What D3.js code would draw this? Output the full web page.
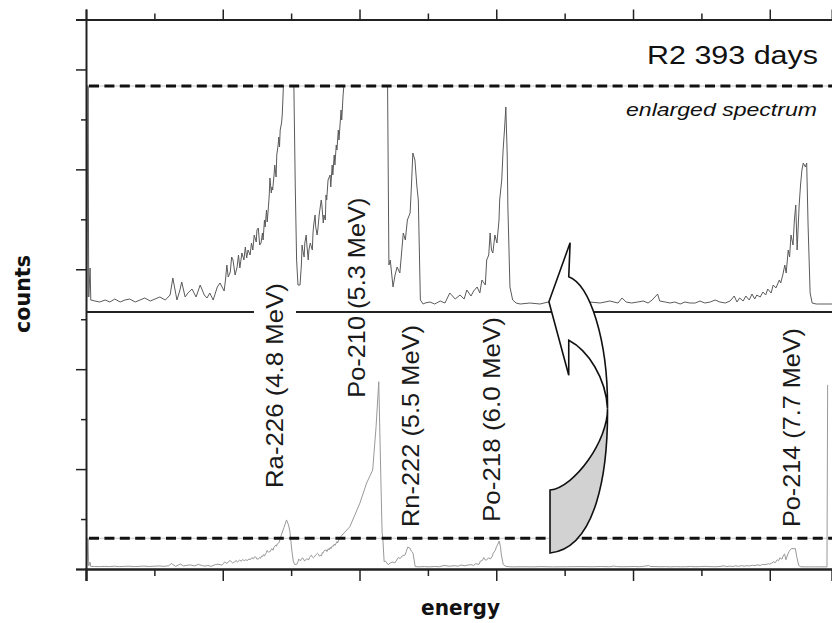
<!DOCTYPE html>
<html>
<head>
<meta charset="utf-8">
<script src="https://cdn.jsdelivr.net/npm/d3@7"></script>
<style>
  body { margin: 0; background: #fff; }
  svg { display: block; }
</style>
</head>
<body>
<svg id="chart" width="832" height="623"></svg>
<script>
// Alpha spectrum, sample R2 after 393 days: counts per channel
const channels = [
  0, 1, 3, 4, 6, 7, 13, 20, 28, 35, 42, 50, 57, 64, 72, 79, 86, 94, 101, 108,
  116, 123, 127, 133, 137, 140, 145, 149, 155, 161, 167, 173, 177, 181, 186, 192, 196,
  202, 204, 206, 208, 211, 213, 215, 218, 221, 223, 225, 228, 231, 233, 235, 237, 240, 242, 244, 246,
  249, 250, 252, 254, 256, 258, 259, 261, 262, 264, 265, 267, 268, 269, 271, 272, 273, 275, 276, 278,
  279, 281, 282, 283, 284, 286, 287, 290, 294, 298, 301, 303, 306, 308, 310,
  313, 315, 316, 317, 319, 320, 322, 323, 325, 326, 328, 331, 332, 333, 335, 336, 338, 339, 341, 342,
  344, 345, 347, 348, 350, 351, 352, 354, 357, 358, 360, 361, 363, 364, 366, 367, 369, 370, 371, 373,
  374, 376, 379, 392, 407, 417, 426, 431, 435, 438, 440, 441, 443,
  445, 449, 452, 455, 459, 464, 467, 470, 474, 476, 478, 481, 484, 486, 489, 493,
  496, 503, 510, 518, 525, 532, 540, 547, 553, 557, 563, 567, 572, 576, 579, 584, 586, 589,
  591, 593, 595, 598, 601, 604, 605, 608, 610, 612, 614, 616, 617, 620, 624, 629, 635, 649, 664, 676,
  693, 715, 737, 752, 766, 778, 784, 790, 798, 807, 815, 822, 828, 836, 839, 847, 854, 861, 869, 876,
  883, 891, 898, 905, 913, 920, 927, 935, 942, 948, 952, 956, 961, 965, 970, 974, 978, 981, 986, 990,
  994, 997, 1002, 1005, 1009, 1014, 1016, 1019, 1022, 1024, 1027, 1029, 1031, 1034, 1036, 1038, 1040, 1043, 1045, 1047,
  1049, 1052, 1054, 1056, 1059, 1062, 1068, 1073, 1082, 1091, 1101, 1102
];
const counts = [
  1680, 8, 220, 8, 37, 5, 4, 3, 5, 3, 6, 3, 5, 6, 3, 5, 7, 4, 6, 8,
  5, 10, 27, 5, 14, 23, 8, 12, 16, 8, 20, 10, 7, 12, 5, 18, 22,
  14, 25, 40, 28, 33, 48, 45, 30, 38, 50, 37, 52, 45, 58, 47, 55, 50, 62, 55, 70,
  63, 75, 77, 60, 62, 72, 65, 85, 78, 95, 83, 100, 110, 127, 112, 118, 115, 130, 140, 128,
  150, 160, 168, 158, 175, 182, 190, 240, 300, 359, 320, 270, 120, 45, 20,
  20, 40, 60, 55, 48, 62, 70, 60, 45, 55, 62, 55, 72, 80, 90, 78, 70, 75, 90, 95,
  105, 100, 82, 90, 85, 110, 105, 125, 130, 118, 140, 130, 150, 140, 160, 155, 175, 165, 175, 195,
  185, 210, 235, 307, 488, 641, 740, 1070, 1414, 700, 260, 225, 40,
  45, 18, 30, 38, 32, 72, 65, 85, 92, 120, 152, 145, 118, 105, 5, 1,
  2, 3, 1, 4, 2, 12, 6, 10, 6, 15, 9, 14, 18, 12, 25, 20, 45, 50,
  72, 55, 52, 70, 62, 85, 105, 125, 155, 175, 198, 150, 98, 18, 5, 2, 1, 2, 1, 3,
  1, 2, 3, 2, 4, 2, 7, 3, 2, 3, 4, 2, 5, 11, 4, 3, 2, 3, 1, 3,
  2, 2, 4, 2, 3, 5, 3, 2, 4, 9, 3, 7, 4, 9, 5, 11, 6, 10, 8, 13,
  10, 16, 12, 20, 17, 25, 22, 30, 40, 32, 55, 48, 70, 60, 85, 100, 55, 100, 120, 135,
  142, 138, 142, 80, 12, 2, 1, 1, 1, 1, 1, 1390
];
// Count level shown at full height in the enlarged view
const enlargedMax = 219;

const peakLabels = ["Ra-226 (4.8 MeV)", "Po-210 (5.3 MeV)", "Rn-222 (5.5 MeV)", "Po-218 (6.0 MeV)", "Po-214 (7.7 MeV)"];
const axisTicks = d3.range(0, 1001, 100);
const levelTicks = d3.range(0, 12, 1);

// Label placement (baseline channel, start level on the frame scale, run length)
const labelLayout = [
  { ch: 288, level: 1.62, len: 205 },
  { ch: 408, level: 3.43, len: 200 },
  { ch: 487, level: 0.84, len: 202 },
  { ch: 605, level: 0.94, len: 205 },
  { ch: 1044, level: 0.84, len: 199 }
];

const spectrum = channels.map((ch, i) => ({ ch, c: counts[i] }));

const svg = d3.select("#chart");
const frameLeft = 86, frameRight = 832, frameTop = 19.5, frameBottom = 569;

const xTop = d3.scaleLinear().domain([0, 1091]).range([frameLeft, frameRight]);
const xFull = d3.scaleLinear().domain([0, 1091]).range([frameLeft, frameLeft + 1091 * 0.673]);
const yTop = d3.scaleLinear().domain([0, enlargedMax]).range([305, 86]);
const yFull = d3.scaleLinear().domain([0, enlargedMax]).range([567, 538.3]);
const yFrame = d3.scaleLinear().domain([0, 11]).range([frameBottom, frameTop]);
const dividerY = 312;

const defs = svg.append("defs");
defs.append("clipPath").attr("id", "clip-top")
  .append("rect").attr("x", frameLeft).attr("y", yTop(enlargedMax) - 0.5)
  .attr("width", frameRight - frameLeft).attr("height", dividerY - yTop(enlargedMax));
defs.append("clipPath").attr("id", "clip-full")
  .append("rect").attr("x", frameLeft).attr("y", frameTop)
  .attr("width", frameRight - frameLeft).attr("height", frameBottom - frameTop);

// full-range spectrum (lower panel)
svg.append("path")
  .datum(spectrum)
  .attr("clip-path", "url(#clip-full)")
  .attr("fill", "none")
  .attr("stroke", "#999")
  .attr("stroke-width", 1)
  .attr("d", d3.line().x(d => xFull(d.ch)).y(d => yFull(d.c)));

// enlarged spectrum (upper panel)
svg.append("path")
  .datum(spectrum)
  .attr("clip-path", "url(#clip-top)")
  .attr("fill", "none")
  .attr("stroke", "#5a5a5a")
  .attr("stroke-width", 1)
  .attr("d", d3.line().x(d => xTop(d.ch)).y(d => yTop(d.c)));

// level of the enlarged range, marked in both views
[yTop(enlargedMax), yFull(enlargedMax)].forEach(y => {
  svg.append("line").attr("x1", frameLeft + 2).attr("x2", frameRight).attr("y1", y).attr("y2", y)
    .attr("stroke", "#c8c8c8").attr("stroke-width", 1);
  svg.append("line").attr("x1", frameLeft + 3).attr("x2", frameRight).attr("y1", y).attr("y2", y)
    .attr("stroke", "#111").attr("stroke-width", 3).attr("stroke-dasharray", "10,5.4");
});

// divider between the two views, interrupted for the Ra-226 label
[[frameLeft, 254], [296, frameRight]].forEach(([a, b]) => {
  svg.append("line").attr("x1", a).attr("x2", b).attr("y1", dividerY).attr("y2", dividerY)
    .attr("stroke", "#222").attr("stroke-width", 2.2);
});

// axes: unlabelled ticks, long on every second step
const gTopAxis = svg.append("g").attr("transform", `translate(0,${frameTop})`)
  .call(d3.axisTop(xTop).tickValues(axisTicks).tickFormat("").tickSizeOuter(0).tickSize(10));
gTopAxis.selectAll(".tick").each(function (d) { d3.select(this).select("line").attr("y2", (d / 100) % 2 === 0 ? -10 : -6); });
gTopAxis.selectAll(".tick line").attr("stroke", "#222").attr("stroke-width", 1.5);
gTopAxis.select(".domain").attr("stroke", "#222").attr("stroke-width", 2);

const gBottomAxis = svg.append("g").attr("transform", `translate(0,${frameBottom})`)
  .call(d3.axisBottom(xTop).tickValues(axisTicks).tickFormat("").tickSizeOuter(0).tickSize(12));
gBottomAxis.selectAll(".tick").each(function (d) { d3.select(this).select("line").attr("y2", (d / 100) % 2 === 0 ? 12 : 7); });
gBottomAxis.selectAll(".tick line").attr("stroke", "#222").attr("stroke-width", 1.5);
gBottomAxis.select(".domain").attr("stroke", "#222").attr("stroke-width", 2.4);

const gLeftAxis = svg.append("g").attr("transform", `translate(${frameLeft},0)`)
  .call(d3.axisLeft(yFrame).tickValues(levelTicks).tickFormat("").tickSizeOuter(0).tickSize(10));
gLeftAxis.selectAll(".tick").each(function (d) { d3.select(this).select("line").attr("x2", d % 2 === 0 ? -10 : -5); });
gLeftAxis.selectAll(".tick line").attr("stroke", "#222").attr("stroke-width", 1.5);
gLeftAxis.select(".domain").attr("stroke", "#222").attr("stroke-width", 2);

// curved arrow from the full view up to the enlarged view
const P = (ch, lv) => [xTop(ch), yFrame(lv)];
const tip = P(708, 6.53), headLeft = P(677, 5.35), barb = P(706, 3.88), notch = P(706, 4.58),
      upper = P(706, 5.85), twist = P(762.7, 3.21), tailTop = P(678.6, 1.58), tailBottom = P(678.6, 0.32);
const cA1a = P(737.1, 5.69), cA1b = P(763.4, 4.58), cA2a = P(763.4, 1.98), cA2b = P(747.3, 0.42);
const cB1a = P(734.2, 4.38), cB1b = P(760.5, 3.82), cB2a = P(763.4, 2.58), cB2b = P(715.2, 1.64);

const front = d3.path();
front.moveTo(...tip);
front.lineTo(...headLeft);
front.lineTo(...barb);
front.lineTo(...notch);
front.bezierCurveTo(...cB1a, ...cB1b, ...twist);
front.bezierCurveTo(...cA1b, ...cA1a, ...upper);
front.closePath();

const back = d3.path();
back.moveTo(...twist);
back.bezierCurveTo(...cA2a, ...cA2b, ...tailBottom);
back.lineTo(...tailTop);
back.bezierCurveTo(...cB2b, ...cB2a, ...twist);
back.closePath();

svg.append("path").attr("d", back.toString()).attr("fill", "#d2d2d2")
  .attr("stroke", "#111").attr("stroke-width", 1.6).attr("stroke-linejoin", "miter");
svg.append("path").attr("d", front.toString()).attr("fill", "#fff")
  .attr("stroke", "#111").attr("stroke-width", 1.6).attr("stroke-linejoin", "miter");

// peak labels
const sans = "'Liberation Sans', Arial, Helvetica, sans-serif";
peakLabels.forEach((t, i) => {
  const L = labelLayout[i];
  svg.append("text")
    .attr("transform", `translate(${xTop(L.ch)},${yFrame(L.level)}) rotate(-90)`)
    .attr("font-family", sans).attr("font-size", 24).attr("fill", "#1a1a1a")
    .attr("textLength", L.len).attr("lengthAdjust", "spacingAndGlyphs")
    .text(t);
});

svg.append("text")
  .attr("x", 818).attr("y", 63.5).attr("text-anchor", "end")
  .attr("font-family", sans).attr("font-size", 25.5).attr("fill", "#111")
  .attr("textLength", 171).attr("lengthAdjust", "spacingAndGlyphs")
  .text("R2 393 days");

svg.append("text")
  .attr("x", 817).attr("y", 116).attr("text-anchor", "end")
  .attr("font-family", sans).attr("font-style", "italic").attr("font-size", 18).attr("fill", "#111")
  .attr("textLength", 191).attr("lengthAdjust", "spacingAndGlyphs")
  .text("enlarged spectrum");

// axis titles
const bold = "'DejaVu Sans', Verdana, sans-serif";
svg.append("text")
  .attr("transform", `translate(30,294) rotate(-90)`).attr("text-anchor", "middle")
  .attr("font-family", bold).attr("font-weight", "bold").attr("font-size", 20.5).attr("fill", "#111")
  .attr("textLength", 78).attr("lengthAdjust", "spacingAndGlyphs")
  .text("counts");

svg.append("text")
  .attr("x", 460.5).attr("y", 614.5).attr("text-anchor", "middle")
  .attr("font-family", bold).attr("font-weight", "bold").attr("font-size", 20.5).attr("fill", "#111")
  .attr("textLength", 79).attr("lengthAdjust", "spacingAndGlyphs")
  .text("energy");
</script>
</body>
</html>
